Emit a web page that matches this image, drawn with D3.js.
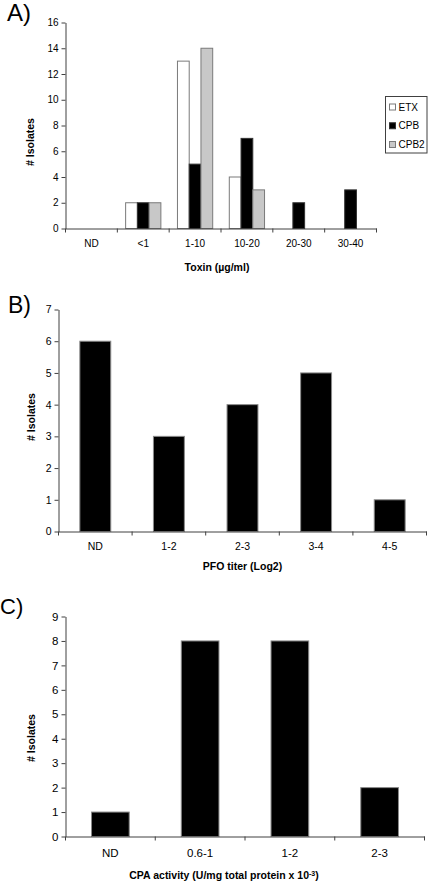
<!DOCTYPE html>
<html>
<head>
<meta charset="utf-8">
<script src="https://cdn.jsdelivr.net/npm/d3@7"></script>
<style>
  html, body { margin: 0; padding: 0; background: #fff; }
  svg { display: block; font-family: "Liberation Sans", Arial, sans-serif; }
</style>
</head>
<body>
<svg id="chart" width="432" height="882"></svg>
<script>
// ---- Data ----
const catsA = ["ND", "<1", "1-10", "10-20", "20-30", "30-40"];
const seriesA = ["ETX", "CPB", "CPB2"];
const etxA = [0, 2, 13, 4, 0, 0];
const cpbA = [0, 2, 5, 7, 2, 3];
const cpb2A = [0, 2, 14, 3, 0, 0];
const ticksA = [0, 2, 4, 6, 8, 10, 12, 14, 16];

const catsB = ["ND", "1-2", "2-3", "3-4", "4-5"];
const valsB = [6, 3, 4, 5, 1];
const ticksB = [0, 1, 2, 3, 4, 5, 6, 7];

const catsC = ["ND", "0.6-1", "1-2", "2-3"];
const valsC = [1, 8, 8, 2];
const ticksC = [0, 1, 2, 3, 4, 5, 6, 7, 8, 9];

// ---- Styles ----
const AXIS = "#404040";
const seriesFill = { ETX: "#ffffff", CPB: "#000000", CPB2: "#c8c8c8" };
const seriesStroke = { ETX: "#7a7a7a", CPB: "#333333", CPB2: "#7a7a7a" };

const svg = d3.select("#chart");

function panel(cfg) {
  const g = svg.append("g");
  const x = d3.scaleBand().domain(cfg.cats).range([cfg.x0, cfg.x1]).padding(0);
  const y = d3.scaleLinear().domain([0, d3.max(cfg.ticks)]).range([cfg.yb, cfg.yt]);

  // bars
  if (cfg.series) {
    const inner = d3.scaleBand().domain(cfg.series.map(s => s.name))
      .range([x.bandwidth() * cfg.gpad, x.bandwidth() * (1 - cfg.gpad)]).padding(0);
    cfg.series.forEach(s => {
      g.append("g").selectAll("rect")
        .data(cfg.cats.map((c, i) => ({ c, v: s.values[i] })).filter(d => d.v > 0))
        .join("rect")
        .attr("x", d => x(d.c) + inner(s.name))
        .attr("width", inner.bandwidth())
        .attr("y", d => y(d.v))
        .attr("height", d => y(0) - y(d.v))
        .attr("fill", seriesFill[s.name])
        .attr("stroke", seriesStroke[s.name])
        .attr("stroke-width", 1);
    });
  } else {
    const inner = d3.scaleBand().domain(["v"])
      .range([x.bandwidth() * cfg.gpad, x.bandwidth() * (1 - cfg.gpad)]).padding(0);
    g.append("g").selectAll("rect")
      .data(cfg.cats.map((c, i) => ({ c, v: cfg.values[i] })))
      .join("rect")
      .attr("x", d => x(d.c) + inner("v"))
      .attr("width", inner.bandwidth())
      .attr("y", d => y(d.v))
      .attr("height", d => y(0) - y(d.v))
      .attr("fill", "#000")
      .attr("stroke", "#8a8a8a")
      .attr("stroke-width", 1);
  }

  // y axis
  const ya = g.append("g").attr("transform", `translate(${cfg.x0},0)`)
    .call(d3.axisLeft(y).tickValues(cfg.ticks).tickFormat(d3.format("d"))
      .tickSizeInner(4).tickSizeOuter(0).tickPadding(3));
  ya.select(".domain").attr("stroke", AXIS);
  ya.selectAll(".tick line").attr("stroke", AXIS);
  ya.selectAll(".tick text").attr("font-size", cfg.fs).attr("fill", "#000")
    .attr("font-family", "Liberation Sans, Arial, sans-serif");

  // x axis: labels at centres, tick marks at category boundaries
  const xa = g.append("g").attr("transform", `translate(0,${cfg.yb})`)
    .call(d3.axisBottom(x).tickSize(0).tickPadding(cfg.lpad).tickSizeOuter(0));
  xa.select(".domain").attr("stroke", AXIS);
  xa.selectAll(".tick text").attr("font-size", cfg.fs).attr("fill", "#000")
    .attr("font-family", "Liberation Sans, Arial, sans-serif");
  const bounds = cfg.cats.map(c => x(c)).concat([x.range()[1]]);
  xa.selectAll("line.bt").data(bounds).join("line").attr("class", "bt")
    .attr("x1", d => d).attr("x2", d => d).attr("y1", 0).attr("y2", 4)
    .attr("stroke", AXIS);

  // axis titles
  g.append("text")
    .attr("transform", `translate(${cfg.ytx},${cfg.yty}) rotate(-90)`)
    .attr("text-anchor", "middle").attr("dy", "0.35em")
    .attr("font-size", cfg.tfs).attr("font-weight", "bold").text("# Isolates");
  const xt = g.append("text")
    .attr("x", cfg.xtx).attr("y", cfg.xty).attr("dy", "0.35em")
    .attr("text-anchor", "middle").attr("font-size", cfg.tfs).attr("font-weight", "bold");
  cfg.xtitle(xt);

  // panel letter
  g.append("text").attr("x", cfg.lx).attr("y", cfg.ly)
    .attr("font-size", cfg.lfs).text(cfg.letter);
  return { g, x, y };
}

// Panel A
panel({
  cats: catsA, ticks: ticksA,
  series: [
    { name: "ETX", values: etxA },
    { name: "CPB", values: cpbA },
    { name: "CPB2", values: cpb2A }
  ],
  gpad: 0.16,
  x0: 65.5, x1: 376.5, yb: 228.5, yt: 22.5,
  fs: 10, tfs: 10.5, lpad: 11,
  ytx: 30, yty: 142, xtx: 217, xty: 267,
  xtitle: t => t.text("Toxin (µg/ml)"),
  letter: "A)", lx: 7, ly: 21, lfs: 24
});

// Legend A
const leg = svg.append("g");
leg.append("rect").attr("x", 385.5).attr("y", 96.5).attr("width", 41.5).attr("height", 56.5)
  .attr("fill", "#fff").attr("stroke", AXIS);
const legY = d3.scalePoint().domain(seriesA).range([107, 144.5]);
seriesA.forEach(s => {
  leg.append("rect").attr("x", 389.5).attr("y", legY(s) - 3).attr("width", 6).attr("height", 6)
    .attr("fill", seriesFill[s]).attr("stroke", seriesStroke[s]);
  leg.append("text").attr("x", 398.5).attr("y", legY(s)).attr("dy", "0.35em")
    .attr("font-size", 10).text(s);
});

// Panel B
panel({
  cats: catsB, ticks: ticksB, values: valsB,
  gpad: 0.29,
  x0: 58.5, x1: 426.5, yb: 531.5, yt: 309.5,
  fs: 10.5, tfs: 10.5, lpad: 11,
  ytx: 31.5, yty: 417, xtx: 242.5, xty: 566.5,
  xtitle: t => t.text("PFO titer (Log2)"),
  letter: "B)", lx: 8, ly: 313, lfs: 23
});

// Panel C
panel({
  cats: catsC, ticks: ticksC, values: valsC,
  gpad: 0.29,
  x0: 65.5, x1: 424.5, yb: 836.5, yt: 616.5,
  fs: 11.5, tfs: 10.5, lpad: 12,
  ytx: 31.5, yty: 738, xtx: 224, xty: 875,
  xtitle: t => {
    t.append("tspan").text("CPA activity (U/mg total protein x 10");
    t.append("tspan").attr("font-size", 7).attr("dy", "-0.45em").text("-3");
    t.append("tspan").attr("dy", "0.35em").text(")");
  },
  letter: "C)", lx: 0, ly: 614, lfs: 22
});
</script>
</body>
</html>
